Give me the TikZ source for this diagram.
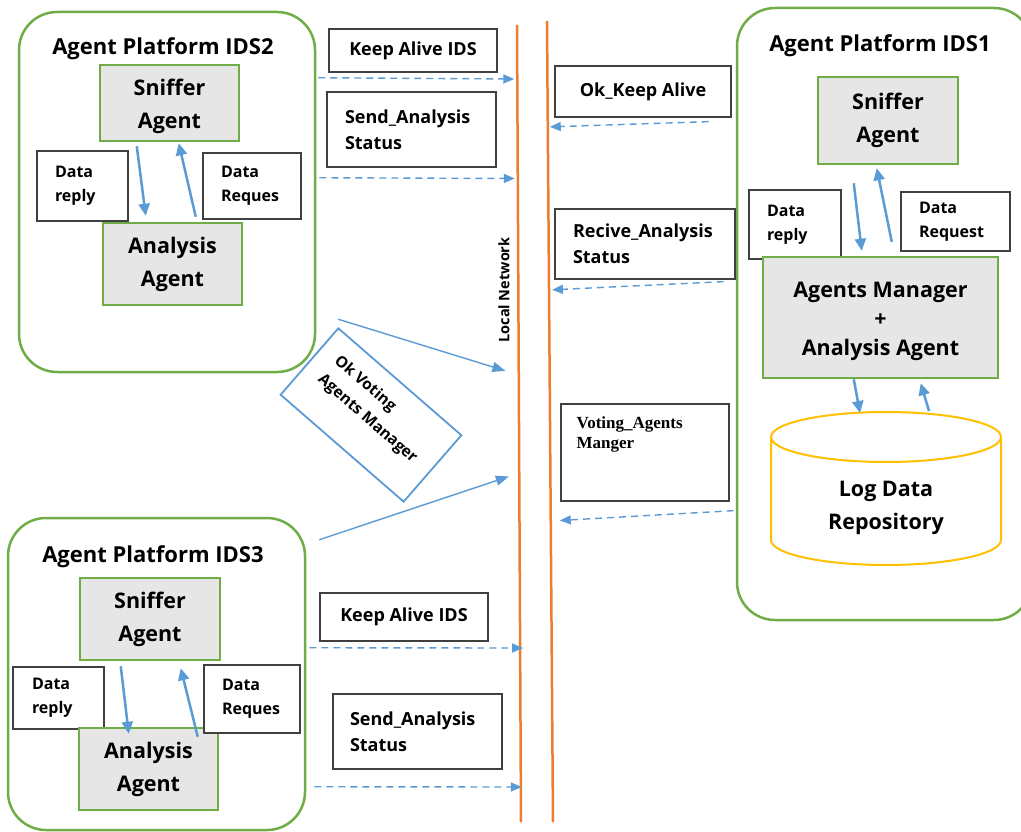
\documentclass[tikz,border=0pt]{standalone}
\usepackage{fontspec}
\setmainfont{Open Sans}
\newfontfamily\timesbold{Liberation Serif}
\usetikzlibrary{arrows.meta,calc}
\definecolor{pgreen}{HTML}{70AD47}
\definecolor{agray}{HTML}{E7E6E6}
\definecolor{porange}{HTML}{ED7D31}
\definecolor{pblue}{HTML}{5B9BD5}
\definecolor{pyellow}{HTML}{FFC000}
\definecolor{boxgray}{HTML}{404040}
\begin{document}
\begin{tikzpicture}[x=1pt,y=-1pt,
  platform/.style={draw=pgreen, line width=2.5pt, rounded corners=38pt, inner sep=0pt},
  ptitle/.style={font=\bfseries\fontsize{22}{26}\selectfont, inner sep=0pt},
  agent/.style={draw=pgreen, fill=agray, line width=2.5pt, align=center, inner sep=0pt,
    font=\bfseries\fontsize{21.5}{33}\selectfont},
  msg/.style={draw=boxgray, line width=1.3pt, fill=white, inner sep=0pt,
    font=\bfseries\fontsize{18}{26}\selectfont},
  msgl/.style={msg, align=left, inner xsep=18pt},
  datab/.style={msg, align=left, inner xsep=18pt, font=\bfseries\fontsize{16}{24}\selectfont},
  flow/.style={draw=pblue, line width=2.5pt, -{Triangle[length=12pt,width=11pt]}},
  dflow/.style={draw=pblue, line width=1.4pt, dash pattern=on 7pt off 5pt,
    -{Triangle[length=11pt,width=9pt]}},
  link/.style={draw=pblue, line width=1.4pt, -{Triangle[length=13pt,width=10pt]}},
  net/.style={draw=porange, line width=2.5pt},
  cyl/.style={draw=pyellow, line width=2pt}]

\fill[white] (0,0) rectangle (1021,832);
\useasboundingbox (0,0) rectangle (1021,832);

% ---------- local network ----------
\coordinate (la) at (517,25);
\coordinate (lb) at (521,822);
\coordinate (ra) at (547,21);
\coordinate (rb) at (553,822);
\draw[net] (la) -- (lb);
\draw[net] (ra) -- (rb);
\node[rotate=90, inner sep=0pt, font=\bfseries\fontsize{14.5}{16}\selectfont] (lnet) at (504,290) {Local Network};

% ---------- agent platform IDS2 ----------
\node[platform, minimum width=296pt, minimum height=360pt] (p2) at (167,192) {};
\node[ptitle] (t2) at (163,49) {Agent Platform IDS2};
\node[agent, minimum width=139pt, minimum height=76pt] (sn2) at (169.5,103) {};
\node[align=center, inner sep=0pt, font=\bfseries\fontsize{21.5}{33}\selectfont] (sn2t) at (169.5,106) {Sniffer\\Agent};
\node[agent, minimum width=139pt, minimum height=82pt] (an2) at (172.5,264) {Analysis\\Agent};
\node[datab, text width=55pt, minimum height=70pt] (dr2) at (82.5,186) {Data\\reply};
\node[datab, text width=62pt, minimum height=66pt] (dq2) at (252,186) {Data\\Reques};
\draw[flow] ($(sn2.south west)+(38,4)$) -- ($(an2.north west)+(44,-6)$);
\draw[flow] ($(an2.north west)+(94,-5)$) -- ($(sn2.south west)+(80,1)$);

% ---------- agent platform IDS1 ----------
\node[platform, minimum width=295pt, minimum height=612pt] (p1) at (884.5,314) {};
\node[ptitle] (t1) at (880,46) {Agent Platform IDS1};
\node[agent, minimum width=140pt, minimum height=87pt] (sn1) at (888,120.5) {Sniffer\\Agent};
\node[datab, text width=56pt, minimum height=69pt] (dr1) at (795,224.5) {Data\\reply};
\node[datab, text width=73pt, minimum height=59pt] (dq1) at (955.5,221.5) {Data\\Request};
\node[agent, minimum width=235pt, minimum height=121pt] (am1) at (880.5,317.5) {};
\node[align=center, inner sep=0pt, font=\bfseries\fontsize{21.5}{29}\selectfont] (am1t)
  at (880.5,321.5) {Agents Manager\\+\\Analysis Agent};
\draw[flow] ($(sn1.south west)+(37,18)$) -- ($(am1.north west)+(100,-5)$);
\draw[flow] ($(am1.north west)+(130,-14)$) -- ($(sn1.south west)+(60,3)$);

% log data repository
\draw[cyl, fill=white] (771,437) -- (771,540)
  arc[start angle=180, end angle=360, x radius=115pt, y radius=25pt] -- (1001,437);
\draw[cyl] (886,437) ellipse[x radius=115pt, y radius=25pt];
\coordinate (cyltop) at (886,412);
\node[align=center, inner sep=0pt, font=\bfseries\fontsize{21.5}{33}\selectfont] (repo) at (886,508) {Log Data\\Repository};
\draw[flow] ($(am1.south west)+(92,0)$) -- ($(cyltop)+(-26,1)$);
\draw[flow] ($(cyltop)+(43,-1)$) -- ($(am1.south west)+(159,4)$);

% ---------- agent platform IDS3 ----------
\node[platform, minimum width=297pt, minimum height=312pt] (p3) at (156.5,674) {};
\node[ptitle] (t3) at (153,557) {Agent Platform IDS3};
\node[agent, minimum width=140pt, minimum height=82pt] (sn3) at (150,619) {Sniffer\\Agent};
\node[datab, text width=53pt, inner xsep=19pt, minimum height=62pt] (dr3) at (58.5,698) {Data\\reply};
\node[agent, minimum width=139pt, minimum height=82pt] (an3) at (148.5,769) {Analysis\\Agent};
\node[datab, text width=60pt, minimum height=68pt] (dq3) at (252,699) {Data\\Reques};
\draw[flow] ($(sn3.south west)+(42,5)$) -- ($(an3.north west)+(51,7)$);
\draw[flow] ($(an3.north west)+(120,10)$) -- ($(sn3.south west)+(102,7)$);

% ---------- messages ----------
\node[msg, minimum width=168pt, minimum height=43pt] (ka2) at (413,50.5) {Keep Alive IDS};
\node[msgl, text width=133pt, minimum height=75pt] (sa2) at (411.5,129.5) {Send\_Analysis\\Status};
\node[msg, minimum width=176pt, minimum height=51pt] (ok) at (643,91.5) {Ok\_Keep Alive};
\node[msgl, text width=144pt, minimum height=70pt] (rv) at (645,244) {Recive\_Analysis\\Status};
\node[msg, minimum width=168pt, minimum height=97pt] (vt) at (645,452.5) {};
\node[anchor=north west, align=left, inner sep=0pt,
  font=\timesbold\bfseries\fontsize{17}{20}\selectfont] (vtt) at ($(vt.north west)+(16,13)$)
  {Voting\_Agents\\Manger};
\node[msg, minimum width=168pt, minimum height=48pt] (ka3) at (404,617) {Keep Alive IDS};
\node[msgl, inner xsep=17pt, text width=135pt, minimum height=75pt] (sa3) at (417.5,731.5) {Send\_Analysis\\Status};

\draw[dflow, shorten >=3pt] ($(p2.north east)+(2,67)$) -- ($(la)!0.0678!(lb)$);
\draw[dflow, shorten >=3pt] ($(p2.north east)+(3,167)$) -- ($(la)!0.1926!(lb)$);
\draw[dflow, shorten >=2pt] ($(ok.south east)+(-23,4)$) -- ($(ra)!0.1323!(rb)$);
\draw[dflow, shorten >=3pt] ($(rv.south east)+(-12,2)$) -- ($(ra)!0.3358!(rb)$);
\draw[dflow, shorten >=9pt] ($(vt.south east)+(4,9)$) -- ($(ra)!0.6242!(rb)$);
\draw[dflow, shorten >=-3pt] ($(p3.north east)+(3,131)$) -- ($(la)!0.7817!(lb)$);
\draw[dflow, shorten >=-1pt] ($(p3.north east)+(8,270)$) -- ($(la)!0.9561!(lb)$);

% ---------- voting ----------
\node[draw=pblue, line width=1.8pt, rotate=-41, minimum width=163pt, minimum height=88pt,
  inner sep=0pt] (ov) at (371,415) {};
\node[rotate=-41, align=left, inner sep=0pt, font=\bfseries\fontsize{15.5}{25}\selectfont]
  (ovt) at ($(ov.center)+(4.6,-5.3)$) {Ok Voting\\Agents Manager};
\draw[link, shorten >=14pt] ($(p2.south east)+(22,-54)$) -- ($(la)!0.4391!(lb)$);
\draw[link, shorten >=11pt] ($(p3.north east)+(13,23)$) -- ($(la)!0.5621!(lb)$);
\end{tikzpicture}
\end{document}
